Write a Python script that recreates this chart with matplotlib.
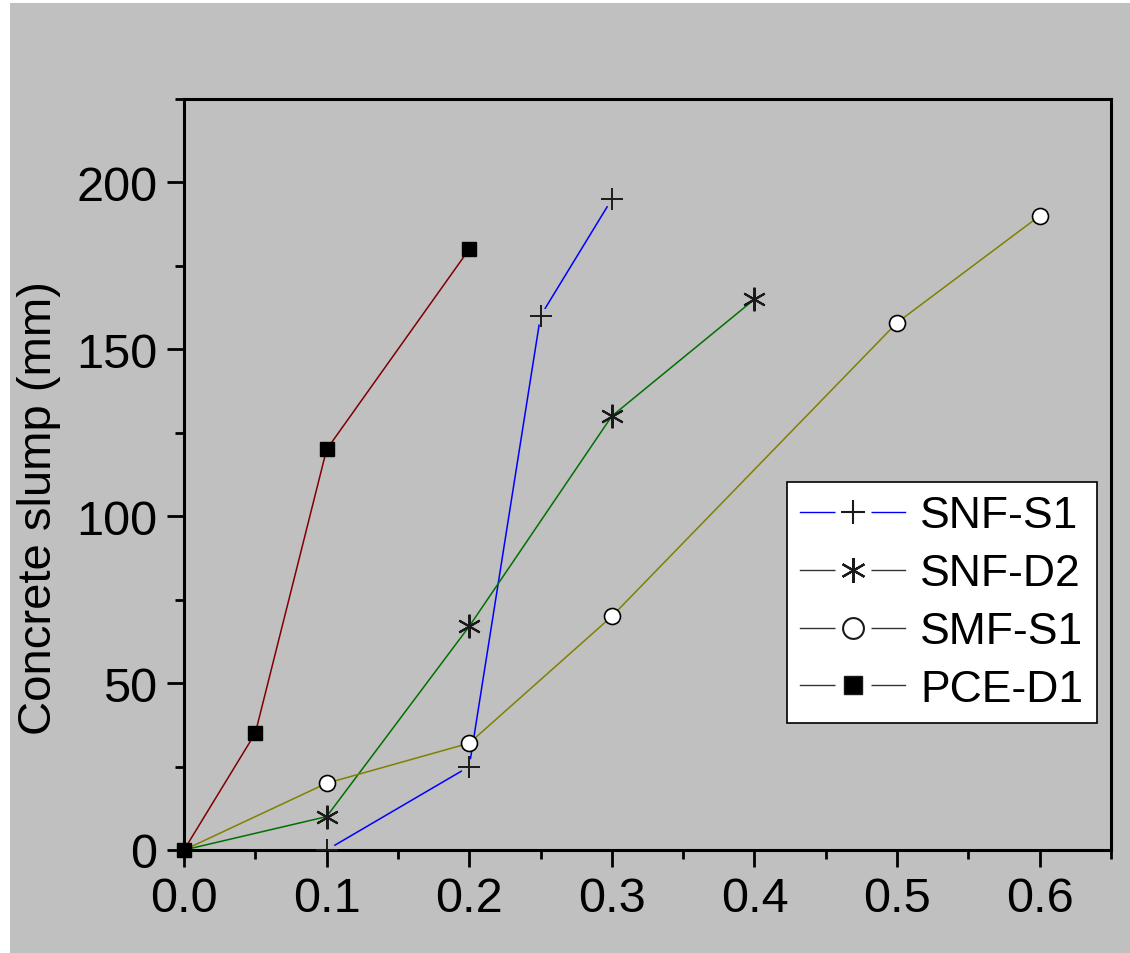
import matplotlib
matplotlib.use("Agg")
import matplotlib.pyplot as plt
from matplotlib.lines import Line2D
from matplotlib.patches import Rectangle
from matplotlib.ticker import MultipleLocator
from matplotlib.legend_handler import HandlerTuple

plt.rcParams['font.family'] = ['Liberation Sans', 'DejaVu Sans']

# Data
snf_s1_x = [0.0, 0.1, 0.2, 0.25, 0.3]
snf_s1_y = [0, 0, 25, 160, 195]
snf_d2_x = [0.0, 0.1, 0.2, 0.3, 0.4]
snf_d2_y = [0, 10, 67, 130, 165]
smf_s1_x = [0.0, 0.1, 0.2, 0.3, 0.5, 0.6]
smf_s1_y = [0, 20, 32, 70, 158, 190]
pce_d1_x = [0.0, 0.05, 0.1, 0.2]
pce_d1_y = [0, 35, 120, 180]
labels = ["SNF-S1", "SNF-D2", "SMF-S1", "PCE-D1"]
xticks = [0.0, 0.1, 0.2, 0.3, 0.4, 0.5, 0.6]
yticks = [0, 50, 100, 150, 200]

BG = '#c0c0c0'
W, H = 1130, 954
fig = plt.figure(figsize=(W / 100, H / 100), dpi=100, facecolor='white')
fig.patches.append(Rectangle((10 / W, 0), 1 - 10 / W, 1 - 4 / H, transform=fig.transFigure,
                             facecolor=BG, edgecolor='none', zorder=-10))

ax = fig.add_axes([184 / W, 1 - 851 / H, (1111 - 184) / W, (851 - 100) / H])
ax.set_facecolor(BG)

lw = 1.1
# SNF-S1 (blue) with gaps around markers
ax.plot(snf_s1_x, snf_s1_y, color='#0000ff', lw=lw, zorder=2, clip_on=False)
ax.plot(snf_s1_x[1:], snf_s1_y[1:], ls='none', marker='o', ms=12, mfc=BG, mec='none', zorder=2.2)
ax.plot(snf_s1_x[1:], snf_s1_y[1:], ls='none', marker='+', ms=16, mew=1.4, color='#1a1a1a', zorder=6)

# SNF-D2 (green)
ax.plot(snf_d2_x, snf_d2_y, color='#007000', lw=lw, zorder=3)
ax.plot(snf_d2_x[1:], snf_d2_y[1:], ls='none', marker=(6, 2, 0), ms=17, mew=1.5, color='#1a1a1a', zorder=6)

# SMF-S1 (olive)
ax.plot(smf_s1_x, smf_s1_y, color='#808000', lw=lw, zorder=3)
ax.plot(smf_s1_x[1:], smf_s1_y[1:], ls='none', marker='o', ms=11.5, mew=1.2, mfc='white', mec='black', zorder=5)

# PCE-D1 (dark red)
ax.plot(pce_d1_x, pce_d1_y, color='#800000', lw=lw, zorder=3)
ax.plot(pce_d1_x, pce_d1_y, ls='none', marker='s', ms=10.5, color='black', zorder=5, clip_on=False)

ax.set_xlim(0, 0.65)
ax.set_ylim(0, 225)
ax.set_xticks(xticks)
ax.set_xticklabels([f"{t:.1f}" for t in xticks])
ax.set_yticks(yticks)
ax.xaxis.set_minor_locator(MultipleLocator(0.05))
ax.yaxis.set_minor_locator(MultipleLocator(25))
ax.tick_params(axis='both', which='major', direction='out', length=12, width=2, labelsize=35, pad=7)
ax.tick_params(axis='both', which='minor', direction='out', length=6.5, width=2)
ax.tick_params(top=False, right=False, which='both')
for s in ax.spines.values():
    s.set_linewidth(2.2)

ax.set_ylabel("Concrete slump (mm)", fontsize=34)
ax.yaxis.set_label_coords((61 - 184) / 927, (851 - 508) / 751)

def handle(color, marker, ms, mew, mfc):
    line = Line2D([], [], color=color, lw=1)
    gap = Line2D([], [], ls='none', marker='s', ms=26, mfc='white', mec='none')
    mk = Line2D([], [], ls='none', marker=marker, ms=ms, mew=mew, mfc=mfc, mec='#1a1a1a', color='#1a1a1a')
    return (line, gap, mk)

handles = [
    handle('#0000ff', '+', 17, 1.5, 'none'),
    handle('#333333', (6, 2, 0), 18, 1.6, 'none'),
    handle('#333333', 'o', 15, 1.5, 'white'),
    handle('#333333', 's', 13.5, 1.0, 'black'),
]
leg = ax.legend(handles, labels, loc='upper left',
                bbox_to_anchor=((787 - 184) / (1111 - 184), (851 - 483) / (851 - 100)),
                handler_map={tuple: HandlerTuple(ndivide=1)},
                fontsize=32, frameon=True, fancybox=False, edgecolor='black', facecolor='white', framealpha=1,
                handlelength=2.35, handletextpad=0.35, borderpad=0.3, labelspacing=0.38, borderaxespad=0)
leg.get_frame().set_linewidth(1.2)
leg.set_zorder(10)

fig.savefig("out.png", dpi=100, facecolor=fig.get_facecolor())
